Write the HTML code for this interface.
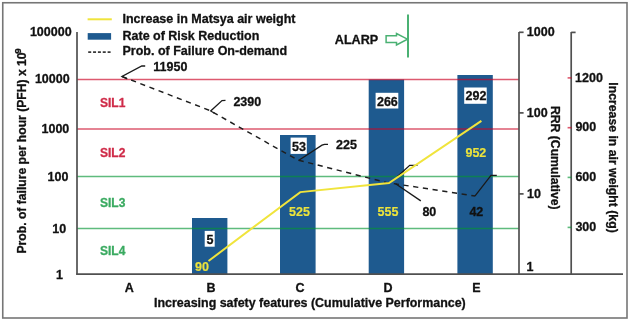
<!DOCTYPE html>
<html><head><meta charset="utf-8">
<style>
html,body{margin:0;padding:0;background:#fff;width:629px;height:321px;overflow:hidden}
svg{display:block;will-change:transform;font-family:"Liberation Sans",sans-serif;font-weight:bold;font-size:12.5px}
text{fill:#111;stroke:#111;stroke-width:0.3px;stroke-linejoin:round}
</style></head>
<body>
<svg width="629" height="321" viewBox="0 0 629 321">
<rect x="0" y="0" width="629" height="321" fill="#fff"/>
<!-- outer border -->
<rect x="2.75" y="2.75" width="624.25" height="315.25" fill="none" stroke="#767676" stroke-width="1.6"/>

<!-- bars -->
<g fill="#1e5a8f">
<rect x="192" y="218" width="35.4" height="56"/>
<rect x="280" y="135" width="35.6" height="139"/>
<rect x="368.7" y="79.5" width="35.4" height="194.5"/>
<rect x="457.4" y="75" width="35.4" height="199"/>
</g>

<!-- SIL lines -->
<g stroke-width="1.55">
<line x1="77" y1="79.4" x2="519" y2="79.4" stroke="#cc0424" stroke-opacity="0.66"/>
<line x1="77" y1="128.9" x2="519" y2="128.9" stroke="#cc0424" stroke-opacity="0.66"/>
<line x1="77" y1="176.5" x2="519" y2="176.5" stroke="#049534" stroke-opacity="0.64"/>
<line x1="77" y1="228.5" x2="519" y2="228.5" stroke="#049534" stroke-opacity="0.64"/>
</g>

<!-- axes -->
<g stroke="#505050" stroke-width="1.7" fill="none">
<line x1="77" y1="32" x2="77" y2="274.8"/>
<line x1="76.2" y1="274.2" x2="623" y2="274.2"/>
<line x1="519" y1="32" x2="519" y2="274.8"/>
<line x1="519" y1="32.3" x2="523.6" y2="32.3"/>
<line x1="519" y1="112.9" x2="523.6" y2="112.9"/>
<line x1="519" y1="193.9" x2="523.6" y2="193.9"/>
<line x1="571.2" y1="32" x2="571.2" y2="274.8"/>
<line x1="571.2" y1="32.4" x2="575.6" y2="32.4"/>
</g>
<!-- weight ticks -->
<g stroke-width="1.6">
<line x1="567.6" y1="77.9" x2="571.5" y2="77.9" stroke="#cc0424" stroke-opacity="0.66"/>
<line x1="567.6" y1="127.7" x2="571.5" y2="127.7" stroke="#cc0424" stroke-opacity="0.66"/>
<line x1="567.6" y1="177.4" x2="571.5" y2="177.4" stroke="#049534" stroke-opacity="0.64"/>
<line x1="567.6" y1="227.4" x2="571.5" y2="227.4" stroke="#049534" stroke-opacity="0.64"/>
</g>

<!-- left axis labels -->
<g text-anchor="end">
<text x="71.6" y="36">100000</text>
<text x="69.7" y="82.7">10000</text>
<text x="69.3" y="132.6">1000</text>
<text x="68.4" y="180.8">100</text>
<text x="66.2" y="232.5">10</text>
<text x="63" y="278.6">1</text>
</g>
<!-- RRR labels -->
<g>
<text x="526.8" y="36.2">1000</text>
<text x="526.8" y="116.6">100</text>
<text x="527" y="197.6">10</text>
<text x="526.5" y="270.7">1</text>
</g>
<!-- weight labels -->
<g>
<text x="575.1" y="82.2">1200</text>
<text x="575.4" y="131.3">900</text>
<text x="575.4" y="181">600</text>
<text x="575.4" y="230.9">300</text>
</g>

<!-- SIL labels -->
<g style="font-size:12px">
<text x="100" y="106.6" style="fill:#cf2a48;stroke:#cf2a48">SIL1</text>
<text x="100" y="157.3" style="fill:#cf2a48;stroke:#cf2a48">SIL2</text>
<text x="100" y="206.6" style="fill:#3aaa60;stroke:#3aaa60">SIL3</text>
<text x="100" y="255.2" style="fill:#3aaa60;stroke:#3aaa60">SIL4</text>
</g>

<!-- category labels -->
<g text-anchor="middle">
<text x="129.3" y="291.6">A</text>
<text x="211" y="291.6">B</text>
<text x="300" y="291.6">C</text>
<text x="387.9" y="291.6">D</text>
<text x="476.4" y="291.6">E</text>
<text x="309.9" y="306.8" style="font-size:12.45px">Increasing safety features (Cumulative Performance)</text>
</g>

<!-- bar value boxes -->
<g fill="#fff">
<rect x="204.7" y="230.9" width="10" height="15.8"/>
<rect x="290.6" y="137.6" width="16.2" height="16.3"/>
<rect x="375.6" y="92.8" width="22.7" height="15.7"/>
<rect x="464.2" y="87.5" width="22.5" height="16.3"/>
</g>
<g text-anchor="middle">
<text x="209.9" y="243.5">5</text>
<text x="299" y="151.3">53</text>
<text x="387.4" y="105.6">266</text>
<text x="476" y="100.2">292</text>
</g>

<!-- dashed PFD line -->
<polyline points="122,76.5 209.6,110.4 297.8,160 386.4,182.5 475,196" fill="none" stroke="#1e1e1e" stroke-width="1.45" stroke-dasharray="5.2,4.6"/>

<!-- leaders -->
<g fill="none" stroke="#1a1a1a" stroke-width="1.3">
<polyline points="145.2,66 141.8,66 122,76.5 127.3,78.9"/>
<polyline points="225.5,100.4 222,100.6 210.7,111 214.5,113.2"/>
<polyline points="328,144.3 324.5,144.3 322,145.2 298.5,160.5"/>
<polyline points="395.6,183.7 420.8,200.9"/>
<polyline points="474.9,196.1 491,175.4 496.8,175.4"/>
<polyline points="397.5,176.4 409.7,165.3 417.5,165.3"/>
</g>

<!-- yellow line -->
<polyline points="208.5,261 300.3,192.1 389,183 481.4,120.8" fill="none" stroke="#f0e43c" stroke-width="2"/>

<!-- data labels -->
<g>
<text x="153.3" y="70.8">11950</text>
<text x="233.4" y="105.9">2390</text>
<text x="336" y="149.2">225</text>
<text x="422.4" y="215.6">80</text>
<text x="469.4" y="215.6">42</text>
</g>
<g text-anchor="middle">
<text x="201.9" y="271" style="fill:#ece33c;stroke:#ece33c;stroke-width:0.15px">90</text>
<text x="299.5" y="215.8" style="fill:#ece33c;stroke:#ece33c;stroke-width:0.15px">525</text>
<text x="388" y="215.7" style="fill:#ece33c;stroke:#ece33c;stroke-width:0.15px">555</text>
<text x="475.9" y="156.6" style="fill:#ece33c;stroke:#ece33c;stroke-width:0.15px">952</text>
</g>

<!-- legend -->
<line x1="87.6" y1="19.3" x2="111.8" y2="19.3" stroke="#f0e43c" stroke-width="2"/>
<rect x="87.7" y="33.1" width="23.4" height="6.6" fill="#1e5a8f"/>
<line x1="88.2" y1="52.1" x2="110.6" y2="52.1" stroke="#3a3a3a" stroke-width="1.8" stroke-dasharray="3,1.85"/>
<g>
<text x="122.5" y="23.3">Increase in Matsya air weight</text>
<text x="122.5" y="40.2">Rate of Risk Reduction</text>
<text x="122.5" y="55.4">Prob. of Failure On-demand</text>
</g>

<!-- ALARP -->
<text x="334.8" y="43.7" style="font-size:12.6px">ALARP</text>
<line x1="408" y1="14.4" x2="408" y2="57.5" stroke="#4ab173" stroke-width="2"/>
<polygon points="386.1,35.8 396.5,35.8 396.5,33.5 407.5,39.2 396.5,45 396.5,42.4 386.1,42.4" fill="#fff" stroke="#4ab173" stroke-width="1.5" stroke-linejoin="miter"/>

<!-- axis titles -->
<text transform="translate(26.4,253.5) rotate(-90)" style="font-size:12.15px">Prob. of failure per hour (PFH) x 10<tspan dx="-1.2" dy="-5.3" style="font-size:9.8px">9</tspan></text>
<text transform="translate(551,106) rotate(90)" style="font-size:12.2px">RRR (Cumulative)</text>
<text transform="translate(609,82.3) rotate(90)" style="font-size:12.25px">Increase in air weight (kg)</text>
</svg>
</body></html>
